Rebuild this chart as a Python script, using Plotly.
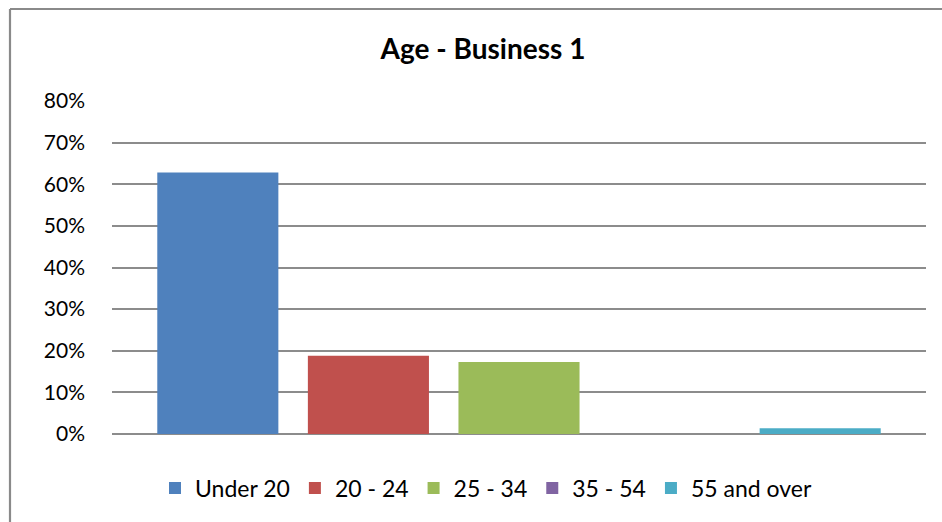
import plotly.graph_objects as go

# Share of respondents by age band
age_groups = ["Under 20", "20 - 24", "25 - 34", "35 - 54", "55 and over"]
shares = [0.628, 0.188, 0.173, 0.0, 0.014]
colors = ["#4F81BD", "#C0504D", "#9BBB59", "#8064A2", "#4BACC6"]
y_ticks = [0, 0.1, 0.2, 0.3, 0.4, 0.5, 0.6, 0.7, 0.8]

FONT = "Lato"
GRID = "#8c8c8c"

fig = go.Figure()
for name, val, col in zip(age_groups, shares, colors):
    fig.add_trace(go.Bar(
        x=["Business 1"], y=[val], name=name,
        marker=dict(color=col, line=dict(width=0)),
    ))

W, H = 942, 522
L, R, T, B = 112, 16, 101, 88
pw, ph = W - L - R, H - T - B

fig.update_layout(
    width=W, height=H,
    margin=dict(l=L, r=R, t=T, b=B),
    paper_bgcolor="white", plot_bgcolor="white",
    barmode="group", bargap=0.075, bargroupgap=0.196,
    font=dict(family=FONT, size=21, color="#000000"),
    title=dict(text="<b>Age - Business 1</b>", x=(483 / W), xanchor="center",
               y=1 - 49 / H, yanchor="middle",
               font=dict(family=FONT, size=28, color="#000000")),
    showlegend=True,
    legend=dict(orientation="h", x=(486 - L) / pw, xanchor="center",
                y=-(488 - (T + ph)) / ph, yanchor="middle",
                font=dict(family=FONT, size=23), traceorder="normal",
                itemwidth=30, bgcolor="rgba(0,0,0,0)"),
    xaxis=dict(showticklabels=False, showgrid=False, zeroline=False,
               showline=False, ticks=""),
    yaxis=dict(range=[0, 0.8], tickvals=y_ticks, tickformat=".0%",
               showgrid=True, gridcolor=GRID, gridwidth=1.6,
               zeroline=True, zerolinecolor=GRID, zerolinewidth=1.6,
               showline=False, ticks="", ticklabelstandoff=26,
               tickfont=dict(family=FONT, size=21)),
)

# Chart frame (left and top edges)
fig.add_shape(type="line", xref="paper", yref="paper",
              x0=(10 - L) / pw, x1=(10 - L) / pw,
              y0=-(H + 10 - T - ph) / ph, y1=1 + (T - 9) / ph,
              line=dict(color="#8a8a8a", width=2.2))
fig.add_shape(type="line", xref="paper", yref="paper",
              x0=(10 - L) / pw, x1=1 + (R + 10) / pw,
              y0=1 + (T - 9) / ph, y1=1 + (T - 9) / ph,
              line=dict(color="#8a8a8a", width=2.2))

fig.write_html("out.html")
